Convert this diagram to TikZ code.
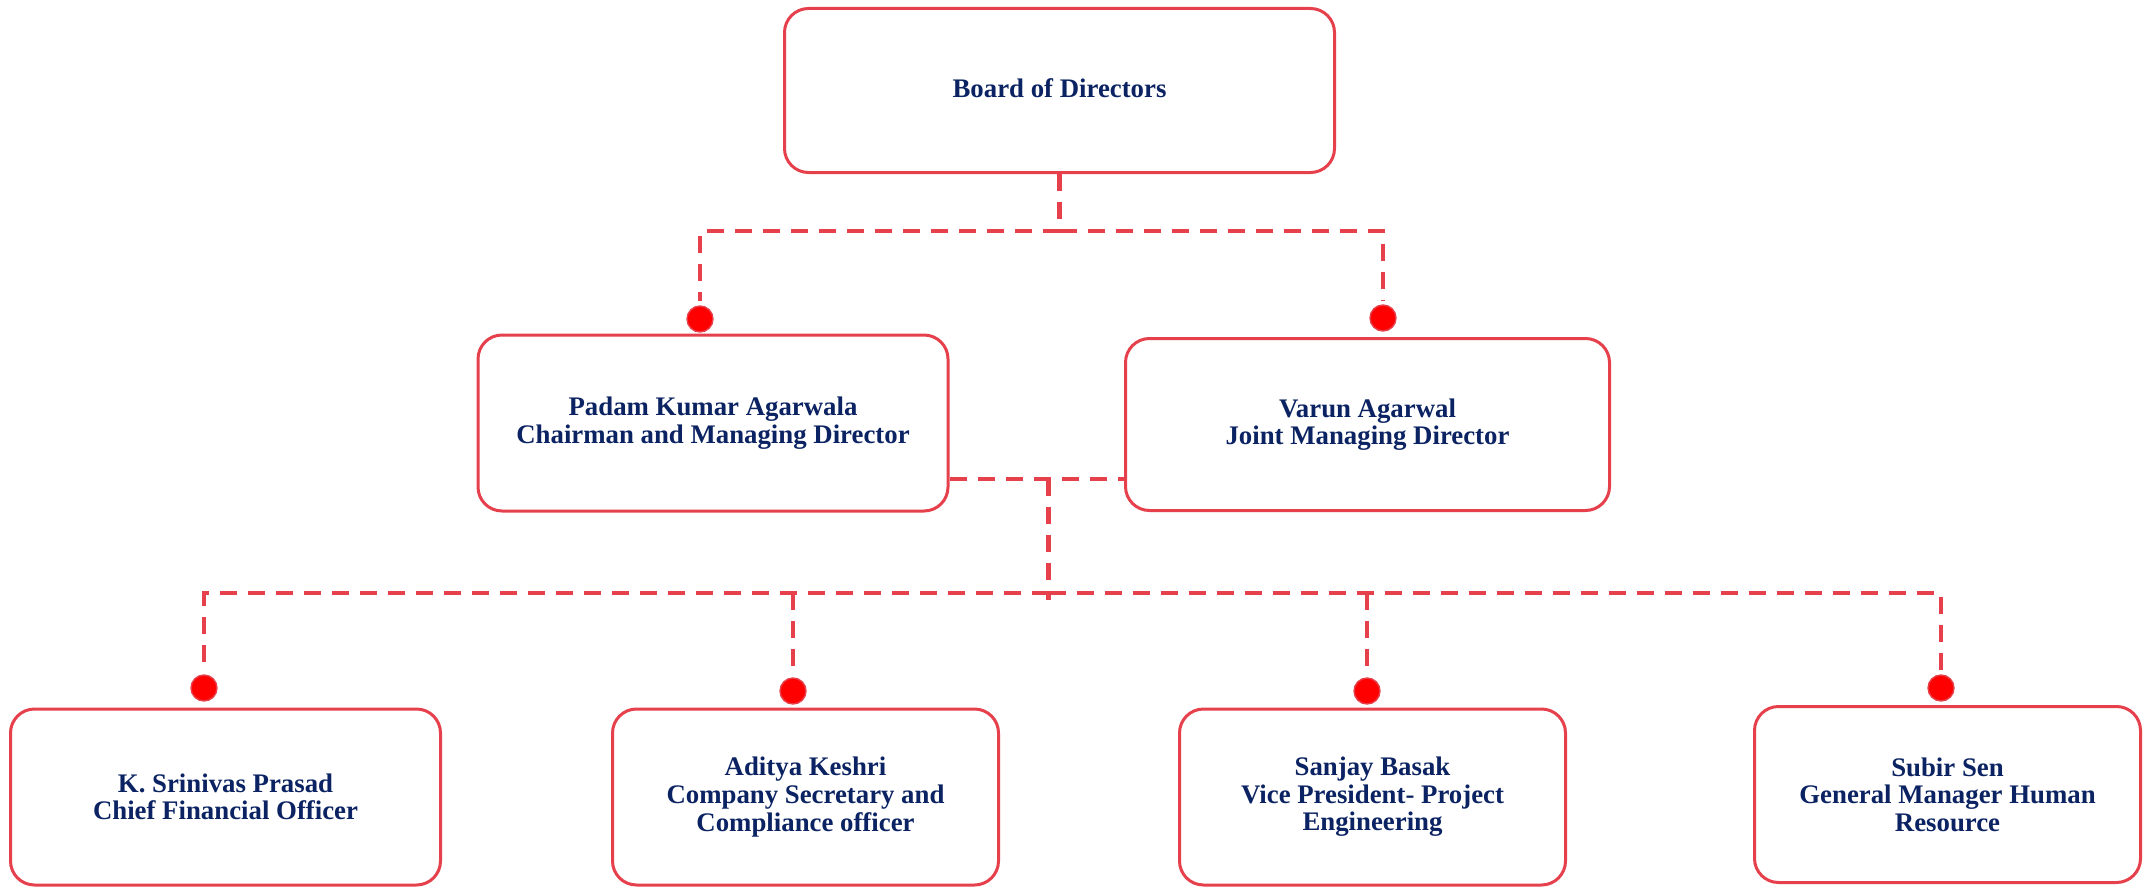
\documentclass[tikz,border=0pt]{standalone}
\usepackage{fontspec}
\setmainfont{Liberation Serif}
\usetikzlibrary{positioning}
\definecolor{boxred}{HTML}{E5404B}
\definecolor{dotred}{HTML}{FF0000}
\definecolor{navy}{HTML}{0B2362}

\begin{document}
\begin{tikzpicture}[x=0.5pt,y=-0.5pt,
  rolebox/.style={draw=boxred,line width=1.5pt,rounded corners=12pt,fill=white,
    align=center,text=navy,inner sep=0pt,
    font=\bfseries\fontsize{13.4}{13.8}\selectfont},
  link/.style={draw=boxred,line width=2.3pt,dash pattern=on 8.5pt off 5.5pt},
  joint/.style={circle,fill=dotred,draw=boxred,line width=0.7pt,
    minimum size=13pt,inner sep=0pt}]
\useasboundingbox (0,0) rectangle (2152,888);

% boxes
\node[rolebox,minimum width=275pt,minimum height=82pt] (board) at (1059.5,90.5)
  {\raisebox{2.5pt}{Board of Directors}};
\node[rolebox,minimum width=235pt,minimum height=88pt] (padam) at (713,423)
  {Padam Kumar Agarwala\\Chairman and Managing Director};
\node[rolebox,minimum width=242pt,minimum height=86pt] (varun) at (1367.5,424.5)
  {Varun Agarwal\\Joint Managing Director};
\node[rolebox,minimum width=215pt,minimum height=88pt] (srinivas) at (225.5,797)
  {K. Srinivas Prasad\\Chief Financial Officer};
\node[rolebox,minimum width=193pt,minimum height=88pt] (aditya) at (805.5,797)
  {Aditya Keshri\\Company Secretary and\\Compliance officer};
\node[rolebox,minimum width=193pt,minimum height=88pt] (sanjay) at (1372.5,797)
  {Sanjay Basak\\Vice President- Project\\Engineering};
\node[rolebox,minimum width=193pt,minimum height=88pt] (subir) at (1947.5,794.5)
  {Subir Sen\\General Manager Human\\Resource};

% dots
\node[joint] (dotP) at (700,319) {};
\node[joint] (dotV) at (1383,318) {};
\node[joint] (dotK) at (204,688) {};
\node[joint] (dotA) at (793,691) {};
\node[joint] (dotS) at (1367,691) {};
\node[joint] (dotH) at (1941,688) {};

% links
\coordinate (bar1) at (1059.5,231);
\draw[link] (board.south) -- (bar1);
\draw[link,shorten >=2pt] (bar1) -| (dotP.north);
\draw[link,shorten >=2pt] (bar1) -| (dotV.north);
\draw[link] ([yshift=-28pt]padam.east) -- ([yshift=-28pt]padam.east -| varun.west);
\coordinate (hub) at (1048.5,479);
\coordinate (bar2) at (1048.5,593);
\draw[link] (hub) -- ([yshift=-3.5pt]bar2);
\draw[link,shorten >=2pt] (bar2) -| (dotK.north);
\draw[link,shorten >=2pt] (bar2) -| (dotH.north);
\draw[link,shorten >=2pt] (dotA.north |- bar2) -- (dotA.north);
\draw[link,shorten >=2pt] (dotS.north |- bar2) -- (dotS.north);
\end{tikzpicture}
\end{document}
